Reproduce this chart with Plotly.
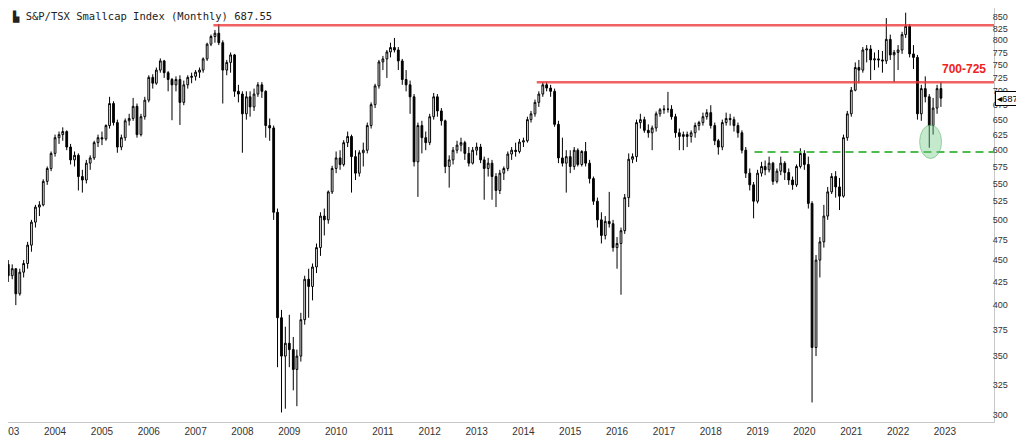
import math
import pandas as pd
import plotly.graph_objects as go

# Monthly candles, Jan 2003 .. Dec 2022
dates = pd.date_range("2003-01-01", periods=240, freq="MS")

open_ = [
    445, 432, 440, 412, 436, 446, 468, 497, 517, 520, 553, 572,
    595, 620, 625, 630, 605, 585, 592, 560, 555, 580, 588, 612,
    620, 618, 640, 678, 645, 605, 620, 648, 652, 673, 625, 655,
    684, 726, 715, 740, 758, 735, 722, 712, 722, 680, 712, 726,
    728, 736, 740, 762, 792, 808, 815, 795, 740, 755, 770, 700,
    695, 660, 690, 672, 695, 712, 700, 640, 636, 510, 387, 350,
    362, 356, 338, 350, 385, 428, 420, 442, 465, 505, 500, 538,
    572, 588, 578, 612, 622, 590, 565, 596, 600, 640, 676, 710,
    756, 762, 776, 785, 780, 758, 722, 712, 690, 582, 640, 620,
    612, 655, 690, 665, 648, 575, 585, 600, 608, 612, 595, 580,
    600, 605, 585, 572, 580, 560, 540, 565, 572, 594, 600, 598,
    613, 615, 650, 660, 680, 695, 712, 706, 700, 642, 588, 580,
    590, 575, 600, 578, 598, 580, 557, 525, 500, 480, 498, 495,
    465, 470, 486, 530, 586, 590, 645, 650, 632, 628, 636, 660,
    667, 668, 668, 655, 628, 622, 625, 622, 628, 640, 645, 655,
    662, 640, 615, 605, 645, 652, 650, 640, 628, 600, 565, 548,
    525, 565, 575, 570, 580, 553, 568, 580, 566, 555, 548, 575,
    595, 578, 522, 358, 450, 472, 505, 538, 560, 545, 532, 620,
    660, 702, 745, 740, 780, 782, 760, 762, 760, 758, 802, 770,
    775, 780, 812, 830, 772, 765, 660, 705, 690, 640, 670, 705,
]
high = [
    450, 445, 440, 440, 450, 472, 500, 520, 525, 556, 575, 598,
    625, 630, 637, 632, 610, 598, 595, 570, 585, 592, 615, 625,
    630, 642, 690, 682, 650, 625, 652, 660, 688, 678, 660, 690,
    730, 732, 745, 763, 760, 738, 725, 728, 730, 720, 730, 735,
    740, 745, 765, 795, 812, 822, 835, 800, 760, 775, 772, 712,
    700, 700, 700, 705, 717, 717, 702, 652, 640, 515, 395, 378,
    390, 368, 356, 392, 432, 440, 446, 470, 510, 515, 540, 576,
    598, 600, 616, 630, 625, 600, 600, 612, 645, 680, 714, 760,
    768, 780, 795, 805, 786, 762, 740, 720, 695, 645, 648, 630,
    660, 697, 695, 670, 650, 592, 605, 615, 620, 615, 605, 605,
    612, 610, 590, 588, 585, 565, 570, 575, 598, 605, 612, 618,
    620, 655, 665, 685, 700, 717, 717, 712, 705, 648, 620, 600,
    600, 605, 603, 600, 613, 585, 560, 530, 510, 505, 538, 500,
    478, 490, 535, 595, 595, 650, 660, 655, 642, 640, 664, 670,
    675, 699, 675, 660, 635, 630, 630, 632, 645, 648, 662, 668,
    675, 645, 618, 650, 662, 660, 655, 645, 632, 605, 572, 552,
    570, 582, 584, 590, 582, 572, 590, 583, 572, 560, 578, 603,
    600, 590, 525, 456, 478, 520, 545, 565, 568, 558, 625, 665,
    708, 755, 760, 786, 790, 790, 775, 780, 778, 848, 812, 780,
    790, 818, 860, 835, 790, 770, 712, 728, 695, 688, 712, 717,
]
low = [
    425, 428, 400, 410, 430, 440, 460, 490, 505, 518, 548, 568,
    590, 610, 615, 600, 578, 575, 540, 537, 550, 570, 585, 605,
    608, 615, 635, 640, 596, 600, 615, 640, 648, 620, 622, 650,
    680, 705, 712, 735, 725, 700, 649, 700, 641, 675, 705, 715,
    720, 725, 735, 758, 788, 795, 790, 678, 730, 735, 690, 680,
    596, 650, 655, 665, 690, 688, 620, 615, 500, 340, 302, 305,
    340, 320, 307, 345, 380, 387, 405, 435, 455, 480, 495, 535,
    565, 570, 575, 605, 537, 555, 560, 575, 595, 635, 670, 705,
    740, 725, 765, 775, 740, 712, 700, 660, 575, 531, 595, 600,
    608, 650, 655, 640, 565, 544, 578, 595, 598, 585, 575, 578,
    592, 580, 527, 560, 527, 517, 535, 555, 568, 585, 590, 595,
    605, 612, 645, 655, 672, 690, 700, 690, 638, 580, 575, 537,
    565, 570, 575, 575, 575, 550, 520, 490, 470, 475, 490, 460,
    440, 411, 482, 517, 580, 582, 635, 628, 620, 600, 630, 655,
    660, 662, 650, 620, 600, 600, 605, 612, 620, 632, 640, 650,
    635, 608, 593, 600, 640, 640, 630, 620, 595, 558, 540, 502,
    522, 560, 562, 566, 548, 550, 562, 555, 548, 541, 545, 572,
    570, 515, 310, 350, 430, 465, 500, 535, 530, 513, 530, 615,
    655, 700, 715, 735, 755, 721, 740, 745, 735, 752, 760, 717,
    740, 772, 805, 765, 742, 650, 648, 680, 604, 625, 660, 672,
]
close = [
    432, 440, 412, 436, 446, 468, 497, 517, 520, 553, 572, 595,
    620, 625, 630, 605, 585, 592, 560, 555, 580, 588, 612, 620,
    618, 640, 678, 645, 605, 620, 648, 652, 673, 625, 655, 684,
    726, 715, 740, 758, 735, 722, 712, 722, 680, 712, 726, 728,
    736, 740, 762, 792, 808, 815, 795, 740, 755, 770, 700, 695,
    660, 690, 672, 695, 712, 700, 640, 636, 510, 387, 350, 362,
    356, 338, 350, 385, 428, 420, 442, 465, 505, 500, 538, 572,
    588, 578, 612, 622, 590, 565, 596, 600, 640, 676, 710, 756,
    762, 776, 785, 780, 758, 722, 712, 690, 582, 640, 620, 612,
    655, 690, 665, 648, 575, 585, 600, 608, 612, 595, 580, 600,
    605, 585, 572, 580, 560, 540, 565, 572, 594, 600, 598, 613,
    615, 650, 660, 680, 695, 712, 706, 700, 642, 588, 580, 590,
    575, 600, 578, 598, 580, 557, 525, 500, 480, 498, 495, 465,
    470, 486, 530, 586, 590, 645, 650, 632, 628, 636, 660, 667,
    668, 668, 655, 628, 622, 625, 622, 628, 640, 645, 655, 662,
    640, 615, 605, 645, 652, 650, 640, 628, 600, 565, 548, 525,
    565, 575, 570, 580, 553, 568, 580, 566, 555, 548, 575, 595,
    578, 522, 358, 450, 472, 505, 538, 560, 545, 532, 620, 660,
    702, 745, 740, 780, 782, 760, 762, 760, 758, 802, 770, 775,
    780, 812, 830, 772, 765, 660, 705, 690, 640, 670, 705, 687.55,
]

year_ticks = list(range(2003, 2024))
y_ticks = [300, 325, 350, 375, 400, 425, 450, 475, 500, 525, 550, 575, 600,
           625, 650, 675, 700, 725, 750, 775, 800, 825, 850]

resist_top = 832
resist_mid = 717
support = 597
last_value = 687.55

x_start, x_end = "2002-12-30", "2024-01-19"

fig = go.Figure()
fig.add_trace(go.Candlestick(
    x=dates, open=open_, high=high, low=low, close=close,
    increasing=dict(line=dict(color="black", width=1), fillcolor="white"),
    decreasing=dict(line=dict(color="black", width=1), fillcolor="black"),
    whiskerwidth=0, showlegend=False, hoverinfo="skip",
))

L = math.log10
red = "rgba(236,52,52,0.78)"
# shapes on a log axis take plain data values
shapes = [
    dict(type="line", xref="x", yref="y", x0="2007-05-20", x1=x_end,
         y0=resist_top, y1=resist_top, line=dict(color=red, width=2.5), layer="above"),
    dict(type="line", xref="x", yref="y", x0="2014-04-15", x1=x_end,
         y0=resist_mid, y1=resist_mid, line=dict(color=red, width=2.5), layer="above"),
    dict(type="line", xref="x", yref="y", x0="2018-12-08", x1=x_end,
         y0=support, y1=support,
         line=dict(color="rgba(60,180,60,0.9)", width=2, dash="8px,5px"), layer="above"),
    dict(type="circle", xref="x", yref="y", x0="2022-06-18", x1="2022-12-06",
         y0=587, y1=641,
         fillcolor="rgba(110,200,130,0.40)",
         line=dict(color="rgba(90,180,110,0.55)", width=1), layer="above"),
]

# annotations on a log axis take log10 values
annotations = [
    dict(xref="paper", yref="paper", x=0.002, y=1, xanchor="left", yanchor="top",
         yshift=0, showarrow=False,
         text="\u2599 S&P/TSX Smallcap Index (Monthly) 687.55",
         font=dict(family="DejaVu Sans Mono", size=10.5, color="#222")),
    dict(xref="paper", yref="y", x=0.994, y=L(742), xanchor="right", yanchor="middle",
         showarrow=False, text="<b>700-725</b>",
         font=dict(family="Liberation Sans", size=12, color="#ee2222")),
    dict(xref="paper", yref="y", x=1, y=L(last_value), xanchor="left", yanchor="middle",
         xshift=1, showarrow=False, text="\u25C2687.55",
         bgcolor="white", bordercolor="black", borderwidth=1, borderpad=1,
         font=dict(family="Liberation Sans", size=9.5, color="black")),
]

# the page body has an 8px margin, so the figure is sized to sit inside it
fig.update_layout(
    width=1016, height=436,
    margin=dict(l=0, r=30, t=0, b=22, autoexpand=False),
    paper_bgcolor="white", plot_bgcolor="white",
    shapes=shapes, annotations=annotations,
    showlegend=False,
    xaxis=dict(
        type="date", range=[x_start, x_end], automargin=False,
        tickvals=[f"{y}-01-01" for y in year_ticks],
        ticktext=[str(y) for y in year_ticks],
        ticklabeloverflow="allow",
        showgrid=False, zeroline=False,
        showline=True, linecolor="#c8c8c8", linewidth=1, mirror=True,
        ticks="", rangeslider=dict(visible=False),
        tickfont=dict(family="Liberation Sans", size=10, color="#333"),
    ),
    yaxis=dict(
        type="log", side="right", automargin=False,
        range=[math.log10(294.55), math.log10(870.6)],
        tickvals=y_ticks, ticktext=[str(v) for v in y_ticks],
        showgrid=False, zeroline=False,
        showline=True, linecolor="#c8c8c8", linewidth=1, mirror=True,
        ticks="", ticklabelstandoff=-4,
        tickfont=dict(family="Liberation Sans", size=9, color="#333"),
    ),
)

fig.write_html("out.html")
